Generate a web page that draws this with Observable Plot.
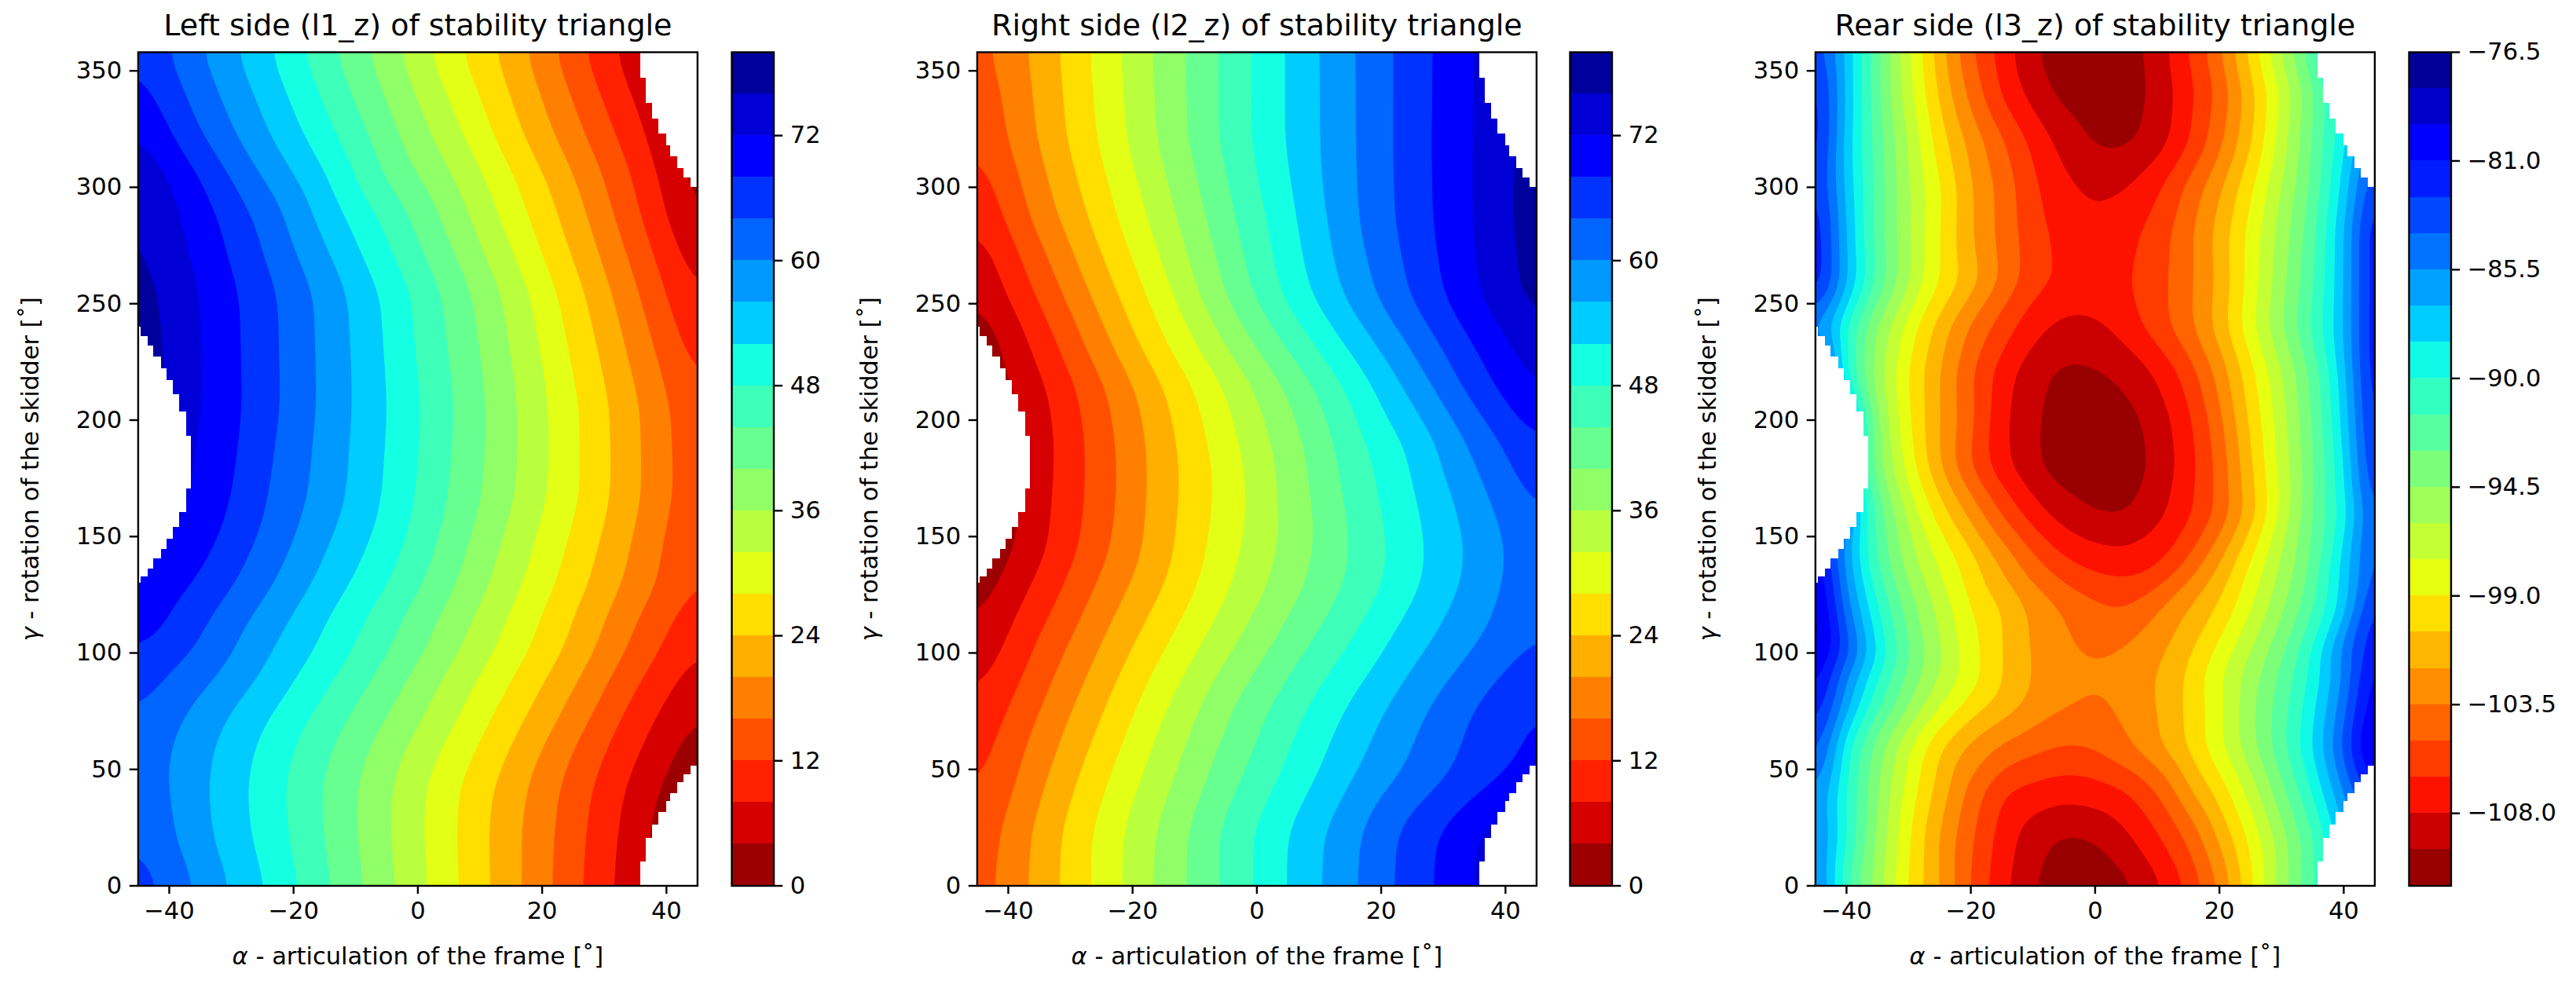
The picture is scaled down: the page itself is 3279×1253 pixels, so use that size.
<!DOCTYPE html>
<html>
<head>
<meta charset="utf-8">
<script src="https://cdn.jsdelivr.net/npm/d3@7"></script>
<script src="https://cdn.jsdelivr.net/npm/@observablehq/plot@0.6"></script>
<style>
html,body{margin:0;padding:0;background:#fff;}
#fig{position:relative;width:3279px;height:1253px;overflow:hidden;}
#fig svg{position:absolute;top:0;max-width:none;height:auto;}
</style>
</head>
<body>
<div id="fig"></div>
<script>
const titles = ["Left side (l1_z) of stability triangle","Right side (l2_z) of stability triangle","Rear side (l3_z) of stability triangle"];
const xLabel = "α - articulation of the frame [˚]";
const yLabel = "γ - rotation of the skidder [˚]";
const xTicks = [-40,-20,0,20,40];
const yTicks = [0,50,100,150,200,250,300,350];

const levelsSide = [0,4,8,12,16,20,24,28,32,36,40,44,48,52,56,60,64,68,72,76,80];
const levelsRear = [-111,-109.5,-108,-106.5,-105,-103.5,-102,-100.5,-99,-97.5,-96,-94.5,-93,-91.5,-90,-88.5,-87,-85.5,-84,-82.5,-81,-79.5,-78,-76.5];
const ticksSide = [0,12,24,36,48,60,72];
const ticksRear = [-108,-103.5,-99,-94.5,-90,-85.5,-81,-76.5];

// Grid nodes of the two side panels
const alphaSide = [-45,-35,-25,-15,-5,5,15,25,35,45];
const gammaL1 = [0,20,42,59,73,88,101,116,129,154,168,206,255,270,288,305,322,358];
const l1z = [
 [66.6,59.4,52.4,45,37.1,29.3,21.4,13.2,5.2,-3],
 [64,57.3,50.9,44,36.5,29,21.2,13.6,5.7,-2],
 [63,56.8,50.4,43.7,36.6,29.2,21.9,14.3,6.7,0],
 [63,57.3,51.2,44.9,38.1,31.2,23.8,16,8.6,1.7],
 [64,58.6,52.7,46.5,40.1,33.3,25.8,18.4,10.3,3.5],
 [66,61,55.4,48.9,42.2,35,28,20.5,12.5,5.8],
 [68,63.5,57,51,44.5,37.3,30.2,22.9,14.8,7.6],
 [71,65,58.8,52.4,45.8,38.9,31.6,24,16.3,9.5],
 [72,67.4,61.2,54.6,48.2,40.9,33.4,25.8,18.4,11.5],
 [75,70.3,63.9,57.2,50.8,43.1,35.3,27.8,19.9,12],
 [76,71.4,64.6,58.4,51.5,43.9,36.6,28.9,20.8,12.8],
 [79,72.1,66,59.1,52.1,44.7,36.9,28.8,20.6,12.4],
 [78,71.9,65.7,58.8,51.2,43.1,34.7,25.7,16.5,7.2],
 [77,71,64.3,56.8,48.9,40.9,32.5,23.8,14.9,5.5],
 [76.8,70,63,54.5,46.9,38.8,30.3,22,12.8,3],
 [75.7,68,59.8,52.4,43.3,36.6,28.5,20.2,11.6,1.8],
 [72.7,64.2,56.9,49.5,41.7,33.9,25.6,17.6,9.5,0.5],
 [67.5,60.2,53,45.3,37.7,29.5,22,13.5,5.4,-2.5]
];
const gammaL2 = [0,23,50,65,79,108,129,146,168,190,213,233,253,270,286,321,358];
const l2z = [
 [13.7,21.4,29.3,37.3,44.7,52.2,59.2,66,72,78],
 [13,21.1,29.3,37.1,45,52.1,58.9,65.7,71.6,78],
 [10.5,18.6,26.7,34.4,41.9,48.6,55.2,60.7,65.5,69.5],
 [9.4,17.1,24.9,33,40.3,47.3,53.8,59.7,65,68.9],
 [8,15.5,23.2,31.2,39,45.7,52.2,58.2,63.9,68],
 [4.1,12,19.5,26.9,34.2,41.1,47.5,54,59.2,64],
 [1.6,9,16.8,23.9,31.4,38.2,44.6,51,57.4,63.1],
 [-0.5,6.8,14.8,22.6,30.3,37.2,44,50.7,57,63],
 [-2,6.4,14,22.2,29.4,37.2,45,51.6,58.5,65.2],
 [-2,6,14.1,22.3,30.3,38,46.1,52.8,60.9,68],
 [0,6.8,15.2,23.7,32.1,40.3,48.5,57,65.5,72.5],
 [0.5,9.3,18.6,27.6,36.3,44.7,52.9,60.7,68.3,74.7],
 [3.8,12.5,21.5,30.5,40.1,48.9,57,64.4,71.5,77.8],
 [5.3,14.8,23.9,32.6,41.5,50.1,58.2,65.2,71.9,78],
 [8,17.4,25.8,34.2,42.7,50.8,59.1,65.9,72.2,78.4],
 [12,20.4,28.7,37,45,52.4,59.4,66.1,72.2,78],
 [14.2,21.4,29.5,37.5,44.9,52.4,59.5,66,72.1,78]
];
// Grid nodes of the rear panel
const alphaRear = [-45,-40,-35,-30,-25,-20,-15,-10,-5,0,5,10,15,20,25,30,35,40,45];
const gammaL3 = [0,20,40,60,80,90,100,120,140,160,180,200,220,240,260,280,300,320,340,358];
const l3z = [
 [-84,-91.3,-95.3,-99.3,-102,-105.1,-107.6,-109.4,-110.6,-110.8,-109.9,-108.4,-106.3,-103.4,-99.4,-95.2,-91.8,-88,-84],
 [-84.5,-90,-94.9,-98.9,-102.2,-104.8,-107.2,-108.9,-109.8,-109.5,-108.4,-106.8,-104.8,-101.9,-98.7,-95.2,-91.8,-87.5,-82],
 [-85,-90.2,-94.5,-98.2,-101.2,-104.1,-106.5,-107.1,-107.5,-107.3,-106.7,-105.1,-102.3,-100,-96.9,-93.5,-90,-85.5,-81],
 [-82.5,-89.6,-93.8,-97.4,-100.4,-102.4,-103.7,-104.5,-105.1,-104.8,-103.7,-102.2,-100.3,-97.8,-95,-91.9,-88.5,-83.5,-78],
 [-80.5,-86.2,-90.8,-94.1,-97,-99.3,-100.8,-102.3,-103.2,-103.8,-102.9,-102,-100.2,-98,-94.9,-92.2,-89.1,-84.7,-79.5],
 [-79.5,-85.5,-90,-93.6,-96,-98.3,-100.5,-102.2,-102.9,-103.2,-102.9,-102,-100.3,-97.6,-95.2,-92.7,-89.7,-85.5,-79.5],
 [-78.5,-83.2,-88.6,-92.9,-95.8,-98.4,-100.5,-102.2,-103.2,-103.8,-103.2,-102.4,-100.7,-98.5,-96,-93.3,-89.8,-84.6,-81],
 [-78,-85,-90,-93.8,-96.5,-99.1,-100.5,-102.4,-103.7,-104.7,-105.1,-103.7,-102,-100.4,-97.7,-94.9,-91.8,-87.9,-81.5],
 [-79,-86.3,-91.8,-95.4,-97.8,-99.9,-102.4,-104.7,-106.4,-107.2,-107.5,-107,-105,-102.2,-99,-95.9,-92.8,-88,-83],
 [-79,-85,-92.2,-96.5,-99.8,-102.5,-105.2,-107.3,-108.8,-109.6,-109.7,-108.5,-106.9,-104.7,-101.4,-97.2,-93,-89.5,-83],
 [-80,-87,-94.1,-98.2,-102,-105.1,-107.5,-109.3,-110.3,-110.6,-110.3,-109.2,-107.2,-104.6,-100.8,-96.9,-93.3,-88.9,-81.5],
 [-79,-85,-94.5,-98.9,-102,-104.6,-107.7,-109.3,-110.3,-110.7,-110.1,-108.9,-106.9,-104,-100.2,-96.6,-93,-88.2,-81],
 [-81,-90.2,-95.3,-99.2,-102,-104.9,-107.3,-109,-109.9,-109.7,-109.1,-107.9,-105.9,-103,-99.6,-96.1,-92.7,-87.7,-80.5],
 [-85,-90.2,-94.8,-98.2,-101.2,-103.8,-105.7,-107.5,-108.5,-108.4,-107.3,-105.7,-103.9,-101.4,-97.9,-94.6,-91.2,-87.2,-80.5],
 [-80.5,-86.8,-91.9,-95.9,-99,-101.2,-103.7,-105.9,-106.8,-107,-106.7,-105.6,-103.9,-101.7,-98.4,-95,-91.8,-87.2,-80.6],
 [-80.5,-87.2,-92.3,-95.9,-99,-101.9,-104,-105.9,-107,-107.6,-107,-105.8,-103.9,-101.4,-98.5,-95.3,-92.1,-87.2,-80.5],
 [-81.5,-87.6,-92.2,-95.9,-98.8,-101.9,-104,-106.2,-107.7,-108.4,-108.1,-106.8,-104.6,-102.3,-99.3,-95.9,-92.7,-88.1,-82],
 [-80.7,-87.9,-92.3,-96.2,-99.8,-102.5,-104.8,-106.9,-108.6,-109.8,-109.9,-108.9,-106.7,-104,-100.8,-96.7,-92.9,-89,-84],
 [-81,-87.5,-92.7,-97,-100.8,-104,-106.7,-108.6,-110,-110.5,-110.2,-109.2,-107,-104.7,-101.2,-97.3,-93.3,-89,-84],
 [-82.5,-87.5,-92.6,-97.3,-101.4,-104.9,-107.2,-109.4,-110.4,-110.7,-110.2,-108.9,-106.5,-103.8,-100,-95.8,-91.8,-87,-82]
];

// Stepped outline of the undefined (white) regions: [alpha limit, gamma from, gamma to]
const leftGap = [[-44.5,130,132.7],[-43.4,132.7,136],[-42.5,136,140.6],[-41.3,140.6,144.5],[-40.4,144.5,149],[-39.3,149,154],[-38.4,154,160.3],[-37.25,160.3,170.5],[-36.4,170.5,193],[-37.25,193,203.6],[-38.4,203.6,211],[-39.3,211,217],[-40.4,217,222],[-41.3,222,227],[-42.5,227,232],[-43.4,232,236],[-44.5,236,240]];
const rightGap = [[35.8,0,10.3],[36.7,10.3,20.4],[37.8,20.4,26],[38.7,26,31.4],[40,31.4,36.4],[40.7,36.4,39.7],[41.8,39.7,44.5],[42.8,44.5,47.6],[44,47.6,51.3],[44,300,303.9],[42.8,303.9,308],[41.8,308,313],[40.7,313,318],[40,318,323],[38.7,323,329.2],[37.8,329.2,336.2],[36.7,336.2,347],[35.8,347,358]];

const panelLefts = [175.4,1243,2310];
const barLefts = [930.5,1998,3066];
const W = 712, TOP = 66, BOTTOM = 125.5, H = 1253;
const FONT = "DejaVu Sans";
const TICK = 30.6, TITLE = 38, LW = 2.4, TL = 10.7;

function jet(t){
  const r = d3.scaleLinear([0,.35,.66,.89,1],[0,0,1,1,.5]).clamp(true)(t);
  const g = d3.scaleLinear([0,.125,.375,.64,.91,1],[0,0,1,1,0,0]).clamp(true)(t);
  const b = d3.scaleLinear([0,.11,.34,.65,1],[.5,1,1,0,0]).clamp(true)(t);
  return d3.rgb(r*255,g*255,b*255).formatHex();
}
const bandColors = levels => {
  const n = levels.length-1;
  return d3.range(n).map(i => jet(1-(i+.5)/n));
};
const colorScale = levels => ({type:"threshold",domain:levels.slice(1,-1),range:bandColors(levels)});
const table = (alphas,gammas,rows) => rows.flatMap((row,j) => row.map((v,i) => ({a:alphas[i],g:gammas[j],v})));

function italicFirst(svg){
  for (const t of svg.querySelectorAll("text")) {
    const s = t.textContent;
    if (s === xLabel || s === yLabel) {
      t.textContent = "";
      const sp = document.createElementNS("http://www.w3.org/2000/svg","tspan");
      sp.setAttribute("font-style","italic");
      sp.textContent = s[0];
      t.appendChild(sp);
      t.appendChild(document.createTextNode(s.slice(1)));
    }
  }
}

function panel(i,alphas,gammas,rows,levels,blur){
  const ml = 175.4;
  const svg = Plot.plot({
    width: ml+W+20, height: H,
    marginLeft: ml, marginRight: 20, marginTop: TOP, marginBottom: BOTTOM,
    style:{fontFamily:FONT,background:"transparent",overflow:"visible",color:"black"},
    x:{domain:[-45,45],axis:null},
    y:{domain:[0,358],axis:null},
    color: colorScale(levels),
    marks:[
      Plot.contour(table(alphas,gammas,rows),{x:"a",y:"g",value:"v",fill:"value",stroke:"none",interpolate:"barycentric",thresholds:levels.slice(0,-1),pixelSize:2,blur}),
      Plot.rect(leftGap,{x1:-45,x2:d=>d[0],y1:d=>d[1],y2:d=>d[2],fill:"white",shapeRendering:"crispEdges"}),
      Plot.rect(rightGap,{x1:d=>d[0],x2:45,y1:d=>d[1],y2:d=>d[2],fill:"white",shapeRendering:"crispEdges"}),
      Plot.frame({stroke:"black",strokeWidth:LW}),
      Plot.axisX({ticks:xTicks,tickFormat:d=>String(d).replace("-","−"),anchor:"bottom",tickSize:TL,tickPadding:10,strokeWidth:LW,fontSize:TICK,label:null}),
      Plot.axisY({ticks:yTicks,tickFormat:d=>String(d),anchor:"left",tickSize:TL,tickPadding:10,strokeWidth:LW,fontSize:TICK,label:null}),
      Plot.text([titles[i]],{frameAnchor:"top",dy:-34,lineAnchor:"middle",fontSize:TITLE}),
      Plot.text([xLabel],{frameAnchor:"bottom",dy:90,lineAnchor:"middle",fontSize:TICK}),
      Plot.text([yLabel],{frameAnchor:"left",rotate:-90,dx:-137,textAnchor:"middle",lineAnchor:"middle",fontSize:TICK})
    ]
  });
  italicFirst(svg);
  svg.style.left = (panelLefts[i]-ml)+"px";
  return svg;
}

function colorbar(i,levels,ticks,fmt){
  const bw = 53.5;
  const bands = d3.range(levels.length-1).map(k => ({lo:levels[k],hi:levels[k+1]}));
  const svg = Plot.plot({
    width: bw+130, height: H,
    marginLeft: 0, marginRight: 130, marginTop: TOP, marginBottom: BOTTOM,
    style:{fontFamily:FONT,background:"transparent",overflow:"visible",color:"black"},
    x:{domain:[0,1],axis:null},
    y:{domain:[levels[0],levels[levels.length-1]],axis:null},
    color: colorScale(levels),
    marks:[
      Plot.rect(bands,{x1:0,x2:1,y1:"lo",y2:"hi",fill:"lo",shapeRendering:"crispEdges"}),
      Plot.frame({stroke:"black",strokeWidth:LW}),
      Plot.axisY({ticks,tickFormat:fmt,anchor:"right",tickSize:TL,tickPadding:10,strokeWidth:LW,fontSize:TICK,label:null})
    ]
  });
  svg.style.left = barLefts[i]+"px";
  return svg;
}

const fig = document.getElementById("fig");
const sideFmt = d => String(d);
const rearFmt = d => d.toFixed(1).replace("-","−");
fig.append(
  panel(0,alphaSide,gammaL1,l1z,levelsSide,10), colorbar(0,levelsSide,ticksSide,sideFmt),
  panel(1,alphaSide,gammaL2,l2z,levelsSide,10), colorbar(1,levelsSide,ticksSide,sideFmt),
  panel(2,alphaRear,gammaL3,l3z,levelsRear,7), colorbar(2,levelsRear,ticksRear,rearFmt)
);
</script>
</body>
</html>
